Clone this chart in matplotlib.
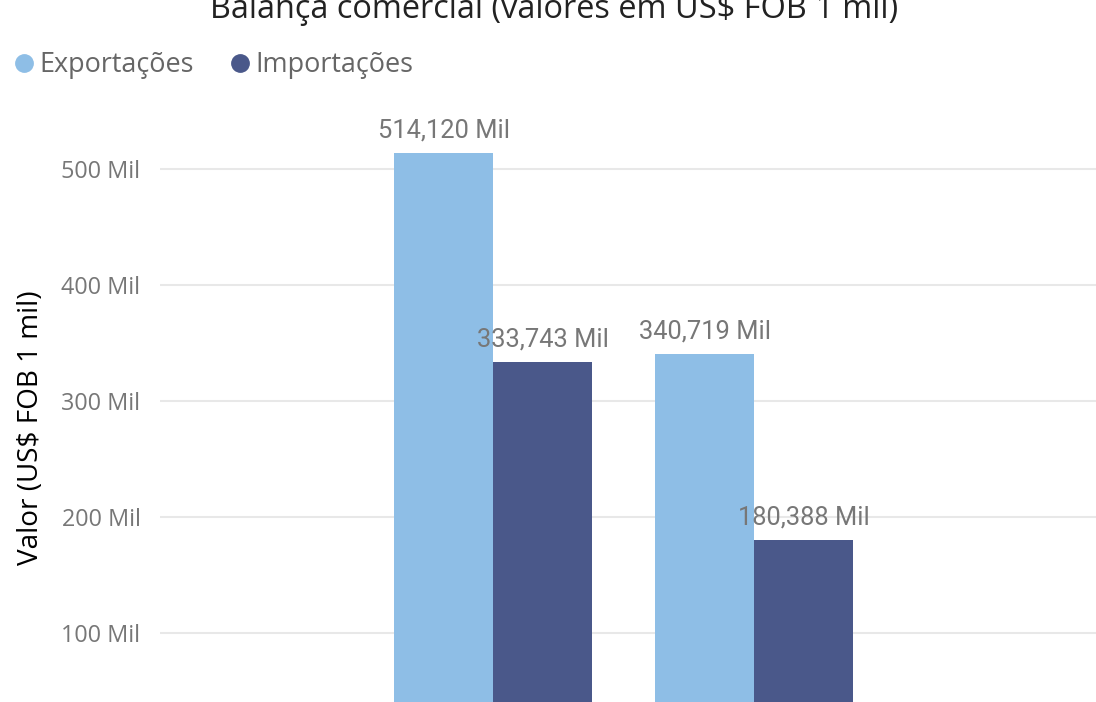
import numpy as np
import matplotlib.pyplot as plt
from matplotlib.lines import Line2D

# data (values in US$ FOB 1 mil, shown as "Mil")
categories = ["A", "B"]
series = ["Exportações", "Importações"]
exportacoes = [514.120, 340.719]
importacoes = [333.743, 180.388]
yticks = [100, 200, 300, 400, 500]
ytick_labels = ["100 Mil", "200 Mil", "300 Mil", "400 Mil", "500 Mil"]
title = "Balança comercial (valores em US$ FOB 1 mil)"
ylabel = "Valor (US$ FOB 1 mil)"

c_exp = "#8EBEE6"
c_imp = "#4A588A"
grey = "#777777"

W, H = 1096, 702
fig = plt.figure(figsize=(W / 100, H / 100), dpi=100)
renderer = fig.canvas.get_renderer()


def fit_size(s, family, width_px, base=16):
    # font size that makes the string about width_px wide
    t = fig.text(0, 0, s, fontfamily=family, fontsize=base)
    w = t.get_window_extent(renderer).width
    t.remove()
    return base * width_px / w


fs_tick = fit_size("500 Mil", "Open Sans", 79)
fs_title = fit_size(title, "Open Sans", 689)
fs_leg = fit_size("Exportações", "Open Sans", 155)
fs_ylab = fit_size(ylabel, "Open Sans", 275)
fs_lab = fit_size("514,120 Mil", "Roboto", 132)

# plot area runs past the bottom edge of the picture (cropped chart)
top_px, bottom_px, left_px, right_px = 111, 749, 160, 1096
ax = fig.add_axes([left_px / W, 1 - bottom_px / H,
                   (right_px - left_px) / W, (bottom_px - top_px) / H])

x = np.arange(len(categories))
w = 0.379
b1 = ax.bar(x - w / 2, exportacoes, w, color=c_exp, zorder=2)
b2 = ax.bar(x + w / 2, importacoes, w, color=c_imp, zorder=2)

ax.set_ylim(0, 550)
ax.set_xlim(-1.276, 2.31)
ax.set_yticks(yticks)
ax.set_yticklabels(ytick_labels, fontfamily="Open Sans", fontsize=fs_tick, color=grey)
ax.tick_params(axis="y", length=0, pad=14)
ax.set_xticks([])
ax.grid(axis="y", color="#E8E8E8", linewidth=1.5, zorder=0)
for s in ax.spines.values():
    s.set_visible(False)

for bars, vals in [(b1, exportacoes), (b2, importacoes)]:
    for r, v in zip(bars, vals):
        lbl = f"{v:.3f}".replace(".", ",") + " Mil"
        ax.annotate(lbl, (r.get_x() + r.get_width() / 2, v), xytext=(0, 11),
                    textcoords="offset points", ha="center", va="baseline",
                    fontfamily="Roboto", fontsize=fs_lab, color=grey, zorder=3)

fig.text(31 / W, 1 - 428 / H, ylabel, rotation=90,
         ha="center", va="center", fontfamily="Open Sans", fontsize=fs_ylab, color="black")

fig.text(554 / W, 1 - 18 / H, title,
         ha="center", va="baseline", fontfamily="Open Sans", fontsize=fs_title, color="#222222")

handles = [Line2D([], [], marker="o", linestyle="", markersize=12.5, color=c)
           for c in (c_exp, c_imp)]
fig.legend(handles, series, loc="center left", bbox_to_anchor=(16 / W, 1 - 65 / H),
           ncol=2, frameon=False, handletextpad=0.26, columnspacing=1.4,
           handlelength=0.62, borderpad=0, borderaxespad=0,
           prop={"family": "Open Sans", "size": fs_leg}, labelcolor="#666666")

plt.savefig("out.png", dpi=100)
plt.close(fig)
